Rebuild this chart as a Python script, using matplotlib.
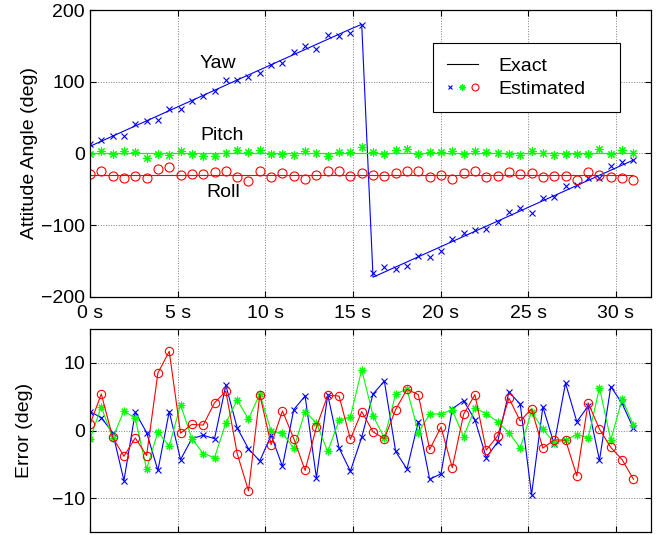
import numpy as np
import matplotlib.pyplot as plt
from matplotlib.lines import Line2D
from matplotlib.legend_handler import HandlerTuple

plt.rcParams['font.family'] = ['Liberation Sans', 'DejaVu Sans']
plt.rcParams['font.size'] = 14

# sample times (s), 49 samples over 31 s
t = np.linspace(0, 31, 49)

# exact attitude (deg)
yaw_exact = [10.0, 17.1, 24.2, 31.3, 38.4, 45.5, 52.6, 59.7, 66.8, 73.9,
             81.0, 88.1, 95.3, 102.4, 109.5, 116.6, 123.7, 130.8, 137.9, 145.0,
             152.1, 159.2, 166.3, 173.4, 180.0, -172.4, -165.3, -158.2, -151.1, -144.0,
             -136.9, -129.8, -122.7, -115.6, -108.5, -101.4, -94.3, -87.2, -80.1, -73.0,
             -65.9, -58.8, -51.7, -44.6, -37.5, -30.4, -23.3, -16.2, -9.1]
pitch_exact = [0.0] * 49
roll_exact = [-30.0] * 49

# estimation errors (deg)
yaw_err = [2.8, 1.9, -0.3, -7.4, 2.7, -0.3, -5.9, 2.8, -4.3, -1.2,
           -0.7, -1.2, 6.7, 0.4, -2.7, -4.5, -0.7, -5.3, 3.1, 5.1,
           -7.0, 5.3, -2.6, -6.0, -1.0, 5.4, 7.3, -3.1, -5.7, 1.3,
           -7.2, -6.4, 3.2, 4.4, 1.6, -4.0, -1.7, 5.7, 3.9, -9.5,
           3.5, -2.0, 7.0, 1.3, 3.6, -4.4, 6.5, 4.0, 0.3]
pitch_err = [-1.3, 3.5, -1.1, 2.9, 1.8, -5.7, -0.2, -2.3, 3.8, -1.2,
             -3.4, -4.0, 1.1, 4.5, 1.7, 5.4, -0.1, -0.4, -2.6, 2.8,
             1.1, -3.1, 1.5, 2.0, 9.0, 2.2, -1.1, 5.4, 6.1, -0.3,
             2.4, 2.5, 3.0, -0.9, 3.3, 2.5, 1.3, -0.3, -2.6, 2.8,
             0.2, -1.8, -1.4, -0.6, -1.1, 6.3, -1.4, 4.6, 0.8]
roll_err = [0.9, 5.4, -1.0, -3.8, -1.1, -3.7, 8.5, 11.7, -0.4, 0.9,
            0.8, 4.1, 5.8, -3.4, -8.9, 5.3, -2.1, 2.9, -1.2, -5.9,
            0.5, 5.2, 5.1, -1.3, 2.8, -0.2, -1.2, 3.1, 6.1, 5.3,
            -2.8, 0.5, -5.5, 2.4, 5.3, -2.9, -0.8, 4.8, 1.4, 3.2,
            -2.6, -1.4, -1.4, -6.7, 4.1, 0.2, -2.5, -4.3, -7.2]

yaw_est = np.array(yaw_exact) + np.array(yaw_err)
pitch_est = np.array(pitch_exact) + np.array(pitch_err)
roll_est = np.array(roll_exact) + np.array(roll_err)

xticks = [0, 5, 10, 15, 20, 25, 30]
xticklabels = ['0 s', '5 s', '10 s', '15 s', '20 s', '25 s', '30 s']

B, G, R = (0, 0, 1), (0, 1, 0), (1, 0, 0)
ast = (8, 2, 0)

fig = plt.figure(figsize=(6.72, 5.35), dpi=100)
ax1 = fig.add_axes([0.1339, 0.4449, 0.8348, 0.5364])
ax2 = fig.add_axes([0.1339, 0.0056, 0.8348, 0.3794])

# top: attitude angles
ax1.plot(t, yaw_exact, color=B, lw=0.8)
ax1.plot(t, pitch_exact, color=G, lw=0.9)
ax1.plot(t, roll_exact, color=R, lw=0.8)
ax1.plot(t, yaw_est, ls='none', marker='x', ms=4, mew=0.8, color=B)
ax1.plot(t, pitch_est, ls='none', marker=ast, ms=6, mew=0.8, color=G)
ax1.plot(t, roll_est, ls='none', marker='o', ms=6.5, mew=0.8, mfc='none', mec=R)

ax1.text(7.3, 126, 'Yaw', ha='center', va='center')
ax1.text(7.55, 25, 'Pitch', ha='center', va='center')
ax1.text(7.6, -55, 'Roll', ha='center', va='center')

ax1.set_xlim(0, 32)
ax1.set_ylim(-200, 200)
ax1.set_yticks([-200, -100, 0, 100, 200])
ax1.set_xticks(xticks)
ax1.set_xticklabels(xticklabels)
ax1.tick_params(axis='x', pad=6)
ax1.set_ylabel('Attitude Angle (deg)', labelpad=2)

exact_h = Line2D([], [], color='k', lw=0.8)
est_h = (Line2D([], [], ls='none', marker='x', ms=3, mew=0.8, color=B),
         Line2D([], [], ls='none', marker=ast, ms=4.5, mew=0.8, color=G),
         Line2D([], [], ls='none', marker='o', ms=5, mew=0.8, mfc='none', mec=R))
leg = ax1.legend([exact_h, est_h], ['Exact', 'Estimated'],
                 handler_map={tuple: HandlerTuple(ndivide=None, pad=0.3)},
                 loc='upper left', bbox_to_anchor=(0.612, 0.655, 0.332, 0.229),
                 mode='expand', borderaxespad=0,
                 fancybox=False, framealpha=1, edgecolor='k', borderpad=0.7,
                 labelspacing=0.3, handlelength=1.6, handletextpad=1.05)
leg.get_frame().set_linewidth(0.8)

# bottom: errors
ax2.plot(t, yaw_err, color=B, lw=0.8, marker='x', ms=4, mew=0.8)
ax2.plot(t, pitch_err, color=G, lw=0.8, marker=ast, ms=5.5, mew=0.8)
ax2.plot(t, roll_err, color=R, lw=0.8, marker='o', ms=6, mew=0.8, mfc='none')

ax2.set_xlim(0, 32)
ax2.set_ylim(-15, 15)
ax2.set_yticks([-10, 0, 10])
ax2.set_xticks(xticks)
ax2.set_xticklabels([])
ax2.set_ylabel('Error (deg)', labelpad=14)

for ax in (ax1, ax2):
    ax.grid(True, ls=':', color='0.5', lw=0.7)
    ax.tick_params(direction='in', top=True, right=True, length=4, width=0.8)
    for s in ax.spines.values():
        s.set_linewidth(0.9)

fig.align_ylabels([ax1, ax2])
fig.savefig('out.png', dpi=100)
